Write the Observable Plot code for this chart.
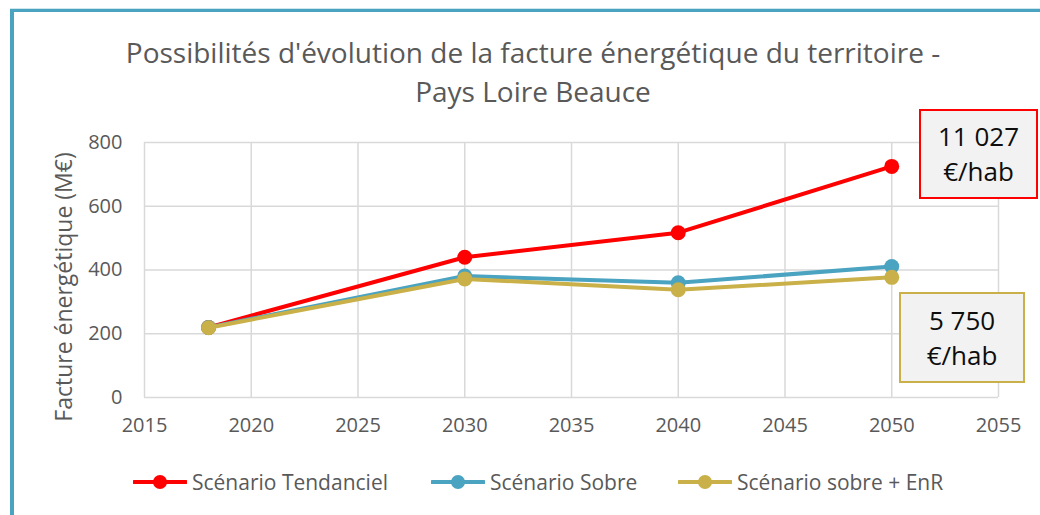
<!DOCTYPE html>
<html>
<head>
<meta charset="utf-8">
<script src="https://cdn.jsdelivr.net/npm/d3@7"></script>
<script src="https://cdn.jsdelivr.net/npm/@observablehq/plot@0.6"></script>
<style>
  html, body { margin: 0; padding: 0; background: #fff; }
  #wrap { position: relative; width: 1040px; height: 515px; overflow: hidden; background: #fff; font-family: "Open Sans", sans-serif; }
  #frame { position: absolute; left: 10px; top: 9px; right: -10px; bottom: -10px; border-top: 3px solid #4aa3c0; border-left: 4px solid #4aa3c0; box-shadow: 0 -1px 0 #cfe6ee; }
  #title { position: absolute; left: 83px; width: 900px; top: 33px; text-align: center; font-size: 28px; line-height: 39px; color: #595959; }
  #chart { position: absolute; left: 0; top: 0; }
  .callout { position: absolute; box-sizing: border-box; background: #f2f2f2; border: 2px solid; text-align: center; font-size: 26px; line-height: 35px; color: #0d0d0d; display: flex; flex-direction: column; justify-content: center; }
  .leg { position: absolute; top: 470px; height: 24px; display: flex; align-items: center; font-size: 21px; color: #595959; white-space: nowrap; }
  .leg svg { margin-right: 5px; }
</style>
</head>
<body>
<div id="wrap">
  <div id="frame"></div>
  <div id="title"></div>
  <div id="chart"></div>
</div>
<script>
// ---- data ----
const years = [2018, 2030, 2040, 2050];
const tendanciel = [220, 440, 517, 725];
const sobre = [220, 381, 360, 411];
const sobreEnR = [219, 372, 338, 377];
const seriesNames = ["Scénario Tendanciel", "Scénario Sobre", "Scénario sobre + EnR"];
const seriesColors = ["#ff0000", "#4aa3c0", "#c9b048"];
const xTicks = [2015, 2020, 2025, 2030, 2035, 2040, 2045, 2050, 2055];
const yTicks = [0, 200, 400, 600, 800];
const titleLines = ["Possibilités d'évolution de la facture énergétique du territoire -", "Pays Loire Beauce"];
const yLabel = "Facture énergétique (M€)";
const calloutTexts = [["11 027", "€/hab"], ["5 750", "€/hab"]];

const seriesValues = [tendanciel, sobre, sobreEnR];
const rows = seriesNames.flatMap((name, i) =>
  years.map((yr, j) => ({ series: name, year: yr, value: seriesValues[i][j] })));

// ---- title ----
document.getElementById("title").innerHTML = titleLines.join("<br>");

// ---- chart ----
const seriesMarks = seriesNames.flatMap((name) => {
  const d = rows.filter(r => r.series === name);
  return [
    Plot.line(d, { x: "year", y: "value", stroke: "series", strokeWidth: 4, strokeLinejoin: "round", strokeLinecap: "round" }),
    Plot.dot(d, { x: "year", y: "value", fill: "series", r: 7.5, stroke: "none" })
  ];
});

const chart = Plot.plot({
  width: 1040,
  height: 440,
  marginLeft: 144,
  marginRight: 42,
  marginTop: 142,
  marginBottom: 43,
  style: { fontFamily: "Open Sans, sans-serif", fontSize: "20px", color: "#595959", background: "transparent", overflow: "visible" },
  x: { domain: [2015, 2055] },
  y: { domain: [0, 800] },
  color: { domain: seriesNames, range: seriesColors },
  marks: [
    Plot.gridX(xTicks, { stroke: "#d9d9d9", strokeOpacity: 1, strokeWidth: 1.5 }),
    Plot.gridY(yTicks, { stroke: "#d9d9d9", strokeOpacity: 1, strokeWidth: 1.5 }),
    Plot.axisX(xTicks, { tickSize: 0, tickPadding: 20, tickFormat: d => String(d), label: null, fill: "#595959", fontSize: 20 }),
    Plot.axisY(yTicks, { tickSize: 0, tickPadding: 22, label: null, fill: "#595959", fontSize: 20 }),
    Plot.text([yLabel], { text: d => d, frameAnchor: "left", rotate: -90, dx: -80, dy: 17, fontSize: 23, fill: "#595959", textAnchor: "middle", lineAnchor: "middle" }),
    ...seriesMarks
  ]
});
document.getElementById("chart").appendChild(chart);

// ---- callouts ----
const wrap = document.getElementById("wrap");
const calloutBoxes = [
  { left: 919, top: 109, width: 119, height: 90, color: seriesColors[0] },
  { left: 899, top: 292, width: 126, height: 91, color: seriesColors[2] }
];
calloutBoxes.forEach((b, i) => {
  const el = document.createElement("div");
  el.className = "callout";
  el.style.left = b.left + "px";
  el.style.top = b.top + "px";
  el.style.width = b.width + "px";
  el.style.height = b.height + "px";
  el.style.borderColor = b.color;
  el.innerHTML = calloutTexts[i].map(t => `<div>${t}</div>`).join("");
  wrap.appendChild(el);
});

// ---- legend ----
const legendLeft = [133, 431, 678];
seriesNames.forEach((name, i) => {
  const item = document.createElement("div");
  item.className = "leg";
  item.style.left = legendLeft[i] + "px";
  item.innerHTML = `<svg width="54" height="16"><line x1="1" y1="8" x2="53" y2="8" stroke="${seriesColors[i]}" stroke-width="4" stroke-linecap="round"/><circle cx="27" cy="8" r="7" fill="${seriesColors[i]}"/></svg><span>${name}</span>`;
  wrap.appendChild(item);
});
</script>
</body>
</html>
